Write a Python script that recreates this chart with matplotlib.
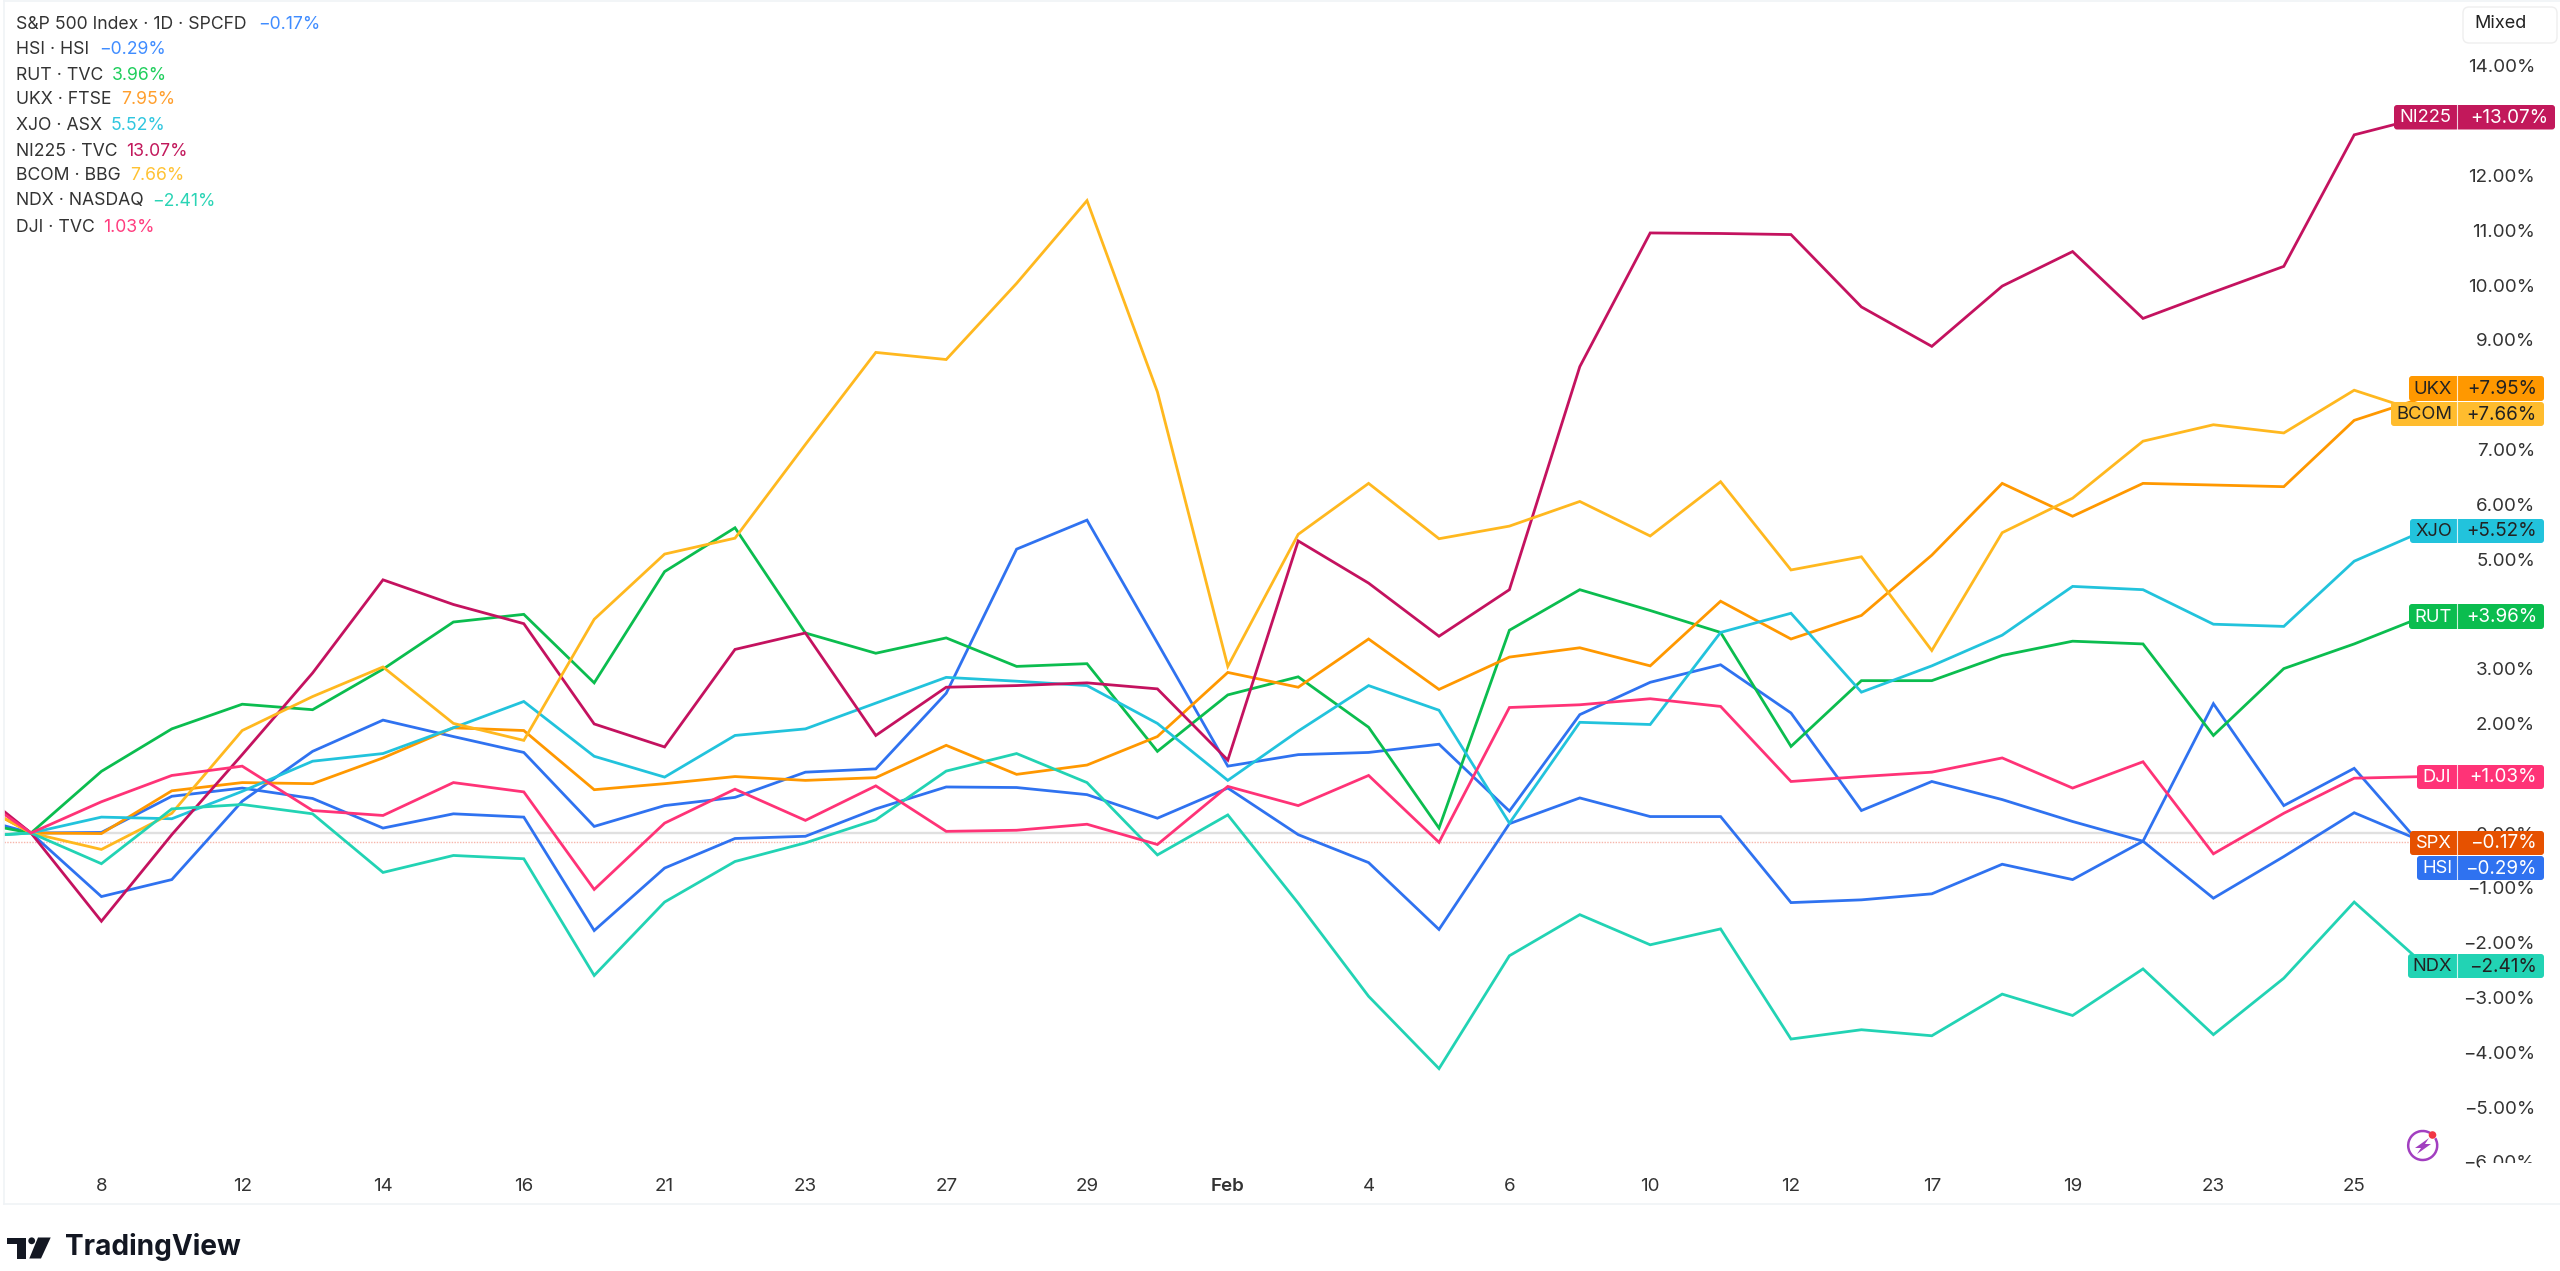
import numpy as np
import matplotlib
matplotlib.use("Agg")
import matplotlib.pyplot as plt
from matplotlib.patches import Rectangle, FancyBboxPatch, Polygon, Circle, Arc

plt.rcParams['font.family'] = ['Inter', 'DejaVu Sans']

# Sessions: index -1 is the partly hidden bar left of the chart, 0 the base session
sessions = list(range(-1, 35))

spx = [0.35, 0, 0.01, 0.67, 0.82, 0.63, 0.09, 0.35, 0.29, -1.78, -0.64, -0.10, -0.06, 0.44, 0.84, 0.83, 0.70, 0.27, 0.82, -0.03, -0.54, -1.76, 0.17, 0.64, 0.30, 0.30, -1.27, -1.22, -1.11, -0.57, -0.85, -0.15, -1.19, -0.43, 0.37, -0.17]
hsi = [0.95, 0, -1.16, -0.85, 0.58, 1.49, 2.06, 1.76, 1.47, 0.12, 0.50, 0.65, 1.11, 1.17, 2.55, 5.18, 5.71, 3.47, 1.22, 1.43, 1.47, 1.62, 0.40, 2.16, 2.75, 3.07, 2.19, 0.41, 0.94, 0.61, 0.21, -0.15, 2.36, 0.50, 1.18, -0.29]
rut = [0.24, 0, 1.125, 1.90, 2.35, 2.25, 2.99, 3.85, 3.99, 2.74, 4.77, 5.57, 3.65, 3.28, 3.56, 3.04, 3.09, 1.49, 2.52, 2.85, 1.93, 0.09, 3.70, 4.44, 4.06, 3.66, 1.58, 2.78, 2.78, 3.24, 3.50, 3.45, 1.78, 3.00, 3.45, 3.96]
ukx = [0.70, 0, -0.01, 0.77, 0.92, 0.90, 1.37, 1.92, 1.87, 0.79, 0.90, 1.03, 0.96, 1.01, 1.60, 1.07, 1.24, 1.76, 2.93, 2.66, 3.54, 2.62, 3.21, 3.38, 3.05, 4.23, 3.54, 3.97, 5.07, 6.38, 5.78, 6.38, 6.35, 6.32, 7.53, 7.95]
xjo = [-0.08, 0, 0.29, 0.26, 0.76, 1.31, 1.45, 1.92, 2.40, 1.40, 1.02, 1.78, 1.90, 2.37, 2.84, 2.77, 2.69, 2.00, 0.96, 1.86, 2.69, 2.24, 0.18, 2.02, 1.98, 3.66, 4.01, 2.57, 3.05, 3.61, 4.50, 4.44, 3.81, 3.77, 4.96, 5.52]
ni225 = [1.03, 0, -1.61, -0.03, 1.43, 2.92, 4.62, 4.17, 3.82, 1.99, 1.57, 3.35, 3.65, 1.78, 2.66, 2.69, 2.74, 2.63, 1.33, 5.33, 4.56, 3.59, 4.44, 8.51, 10.95, 10.94, 10.92, 9.60, 8.88, 9.98, 10.61, 9.39, 9.87, 10.34, 12.74, 13.07]
bcom = [0.70, 0, -0.30, 0.36, 1.87, 2.49, 3.03, 2.00, 1.69, 3.90, 5.09, 5.38, 7.09, 8.77, 8.64, 10.03, 11.54, 8.05, 3.04, 5.45, 6.38, 5.37, 5.60, 6.05, 5.42, 6.41, 4.80, 5.04, 3.33, 5.48, 6.11, 7.15, 7.45, 7.30, 8.08, 7.66]
ndx = [-0.08, 0, -0.56, 0.44, 0.52, 0.35, -0.72, -0.41, -0.47, -2.60, -1.26, -0.52, -0.18, 0.24, 1.13, 1.45, 0.92, -0.40, 0.33, -1.28, -2.98, -4.30, -2.24, -1.49, -2.04, -1.75, -3.76, -3.59, -3.70, -2.94, -3.33, -2.48, -3.68, -2.65, -1.26, -2.41]
dji = [0.90, 0, 0.57, 1.05, 1.22, 0.41, 0.32, 0.92, 0.75, -1.03, 0.18, 0.80, 0.23, 0.86, 0.03, 0.05, 0.16, -0.21, 0.85, 0.50, 1.05, -0.17, 2.29, 2.34, 2.45, 2.31, 0.94, 1.03, 1.11, 1.37, 0.82, 1.30, -0.38, 0.36, 1.00, 1.03]

tick_sessions = list(range(1, 34, 2))
tick_labels = ['8', '12', '14', '16', '21', '23', '27', '29', 'Feb', '4', '6', '10', '12', '17', '19', '23', '25']
price_ticks = list(range(-6, 15))

legend_names = ['S&P 500 Index · 1D · SPCFD', 'HSI · HSI', 'RUT · TVC', 'UKX · FTSE', 'XJO · ASX',
                'NI225 · TVC', 'BCOM · BBG', 'NDX · NASDAQ', 'DJI · TVC']
legend_values = ['−0.17%', '−0.29%', '3.96%', '7.95%', '5.52%', '13.07%', '7.66%', '−2.41%', '1.03%']
legend_colors = ['#3f8cff', '#3f8cff', '#1fce5c', '#ff9e2c', '#2fc6df', '#c2185b', '#ffc233', '#2ad4b5', '#ff3d7f']
legend_x = [258, 99, 112, 120.7, 110.7, 126, 130, 151.7, 102.7]
legend_y = [24.5, 50, 75, 100, 126, 151, 176, 201, 227]

series = [(spx, '#2f72f0'), (hsi, '#2f72f0'), (rut, '#0bbd4f'), (ukx, '#ff9800'), (xjo, '#22c3dc'),
          (ni225, '#c4125f'), (bcom, '#ffb81f'), (ndx, '#22d3b4'), (dji, '#ff3377')]

# name, value, left px, top px, bottom px, right px, fill colour, text colour
badges = [('NI225', '+13.07%', 2394, 105, 129.5, 2555, '#c2185b', 'white'),
          ('UKX', '+7.95%', 2409, 376, 401, 2544, '#ff9800', '#222222'),
          ('BCOM', '+7.66%', 2391, 402, 426, 2544, '#ffbc2e', '#222222'),
          ('XJO', '+5.52%', 2410, 519, 543, 2544, '#22c3dc', '#222222'),
          ('RUT', '+3.96%', 2409, 604, 629, 2544, '#0bbd4f', 'white'),
          ('DJI', '+1.03%', 2417, 765, 789, 2544, '#ff3377', 'white'),
          ('SPX', '−0.17%', 2410, 831, 855, 2544, '#e65100', 'white'),
          ('HSI', '−0.29%', 2417, 856, 880, 2544, '#2f72f0', 'white'),
          ('NDX', '−2.41%', 2408, 954, 978, 2544, '#22d3b4', '#222222')]

W, H = 2560, 1271
fig = plt.figure(figsize=(W / 100, H / 100), dpi=100, facecolor='white')

# main pane: px x = 31 + 70.4*i ; px y = 833 - 54.8*v
L, R, T, B = 4, 2556, 1, 1170
ax = fig.add_axes([L / W, 1 - B / H, (R - L) / W, (B - T) / H])
ax.set_xlim((L - 31) / 70.4, (R - 31) / 70.4)
ax.set_ylim((833 - B) / 54.8, (833 - T) / 54.8)
for s in ax.spines.values():
    s.set_visible(False)

ax.hlines(0, (L - 31) / 70.4, 34, color='#e0e0e0', lw=1.7, zorder=1)
ax.hlines(spx[-1], (L - 31) / 70.4, 34, color='#f7b5aa', lw=1.0, linestyles=(0, (1, 1)), zorder=1)

for vals, col in series:
    ax.plot(sessions, vals, color=col, lw=2.0, solid_joinstyle='miter', zorder=2)

ax.yaxis.tick_right()
ax.set_yticks(price_ticks)
ax.set_yticklabels([f"{v:.2f}%".replace('-', '−') for v in price_ticks])
for lab in ax.get_yticklabels():
    lab.set_ha('right')
ax.tick_params(axis='y', length=0, pad=-15.1, labelsize=13.5, labelcolor='#333333')
ax.set_xticks(tick_sessions)
ax.set_xticklabels(tick_labels)
ax.tick_params(axis='x', length=0, pad=5.5, labelsize=13.5, labelcolor='#333333')
for lab in ax.get_xticklabels():
    if lab.get_text() == 'Feb':
        lab.set_fontweight('semibold')

# overlay in figure pixels for the chart furniture
ov = fig.add_axes([0, 0, 1, 1], facecolor='none')
ov.set_xlim(0, W)
ov.set_ylim(H, 0)
ov.axis('off')

ov.add_patch(Rectangle((2480, 1163), 76, 12, fc='white', ec='none', zorder=1))
for xs, ys in [((4, 4), (0, 1204)), ((4, 2560), (1204, 1204)), ((4, 2560), (0.5, 0.5))]:
    ov.plot(xs, ys, color='#f0f3f6', lw=1.2)

for nm, val, col, vx, y in zip(legend_names, legend_values, legend_colors, legend_x, legend_y):
    ov.text(16, y, nm, fontsize=12.7, color='#333333', va='center', ha='left')
    ov.text(vx, y, val, fontsize=12.7, color=col, va='center', ha='left')

DIV = 2457
for nm, val, x0, y0, y1, x1, fc, tc in badges:
    ov.add_patch(FancyBboxPatch((x0 + 2, y0 + 2), x1 - x0 - 4, y1 - y0 - 4,
                                boxstyle='round,pad=2,rounding_size=3', fc=fc, ec='none', zorder=3))
    ov.plot([DIV, DIV], [y0, y1], color='white', lw=0.8, alpha=0.8, zorder=4)
    yc = (y0 + y1) / 2 + 0.5
    ov.text((x0 + DIV) / 2, yc, nm, fontsize=13.2, color=tc, ha='center', va='center', zorder=5)
    ov.text(x1 - 7, yc, val, fontsize=13.6, color=tc, ha='right', va='center', zorder=5)

ov.add_patch(FancyBboxPatch((2466, 10), 88, 30, boxstyle='round,pad=3,rounding_size=6',
                            fc='white', ec='#eeeeee', lw=1))
ov.text(2500, 24, 'Mixed', fontsize=13, color='#222222', ha='center', va='center')

# flash icon
ov.add_patch(Arc((2422.7, 1145.5), 29, 29, theta1=-30, theta2=300, color='#a23fc0', lw=1.8))
ov.add_patch(Polygon([(2429, 1138), (2415, 1148), (2421, 1148), (2417, 1154), (2431, 1144), (2425, 1144)],
                     closed=True, fc='#a23fc0', ec='none'))
ov.add_patch(Circle((2432.5, 1135), 3.8, fc='#f23645', ec='none'))

# TradingView mark
k = '#131722'
ov.add_patch(Polygon([(6.7, 1237.5), (26, 1237.5), (26, 1258.5), (16.7, 1258.5), (16.7, 1243.5), (6.7, 1243.5)],
                     closed=True, fc=k, ec='none'))
ov.add_patch(Circle((31.7, 1240.8), 3.4, fc=k, ec='none'))
ov.add_patch(Polygon([(38, 1237.5), (50.7, 1237.5), (41, 1258.5), (29.3, 1258.5)], closed=True, fc=k, ec='none'))
ov.text(64.5, 1247, 'TradingView', fontsize=20.2, fontweight='bold', color=k, ha='left', va='center')

fig.savefig('out.png', dpi=100, facecolor='white')
